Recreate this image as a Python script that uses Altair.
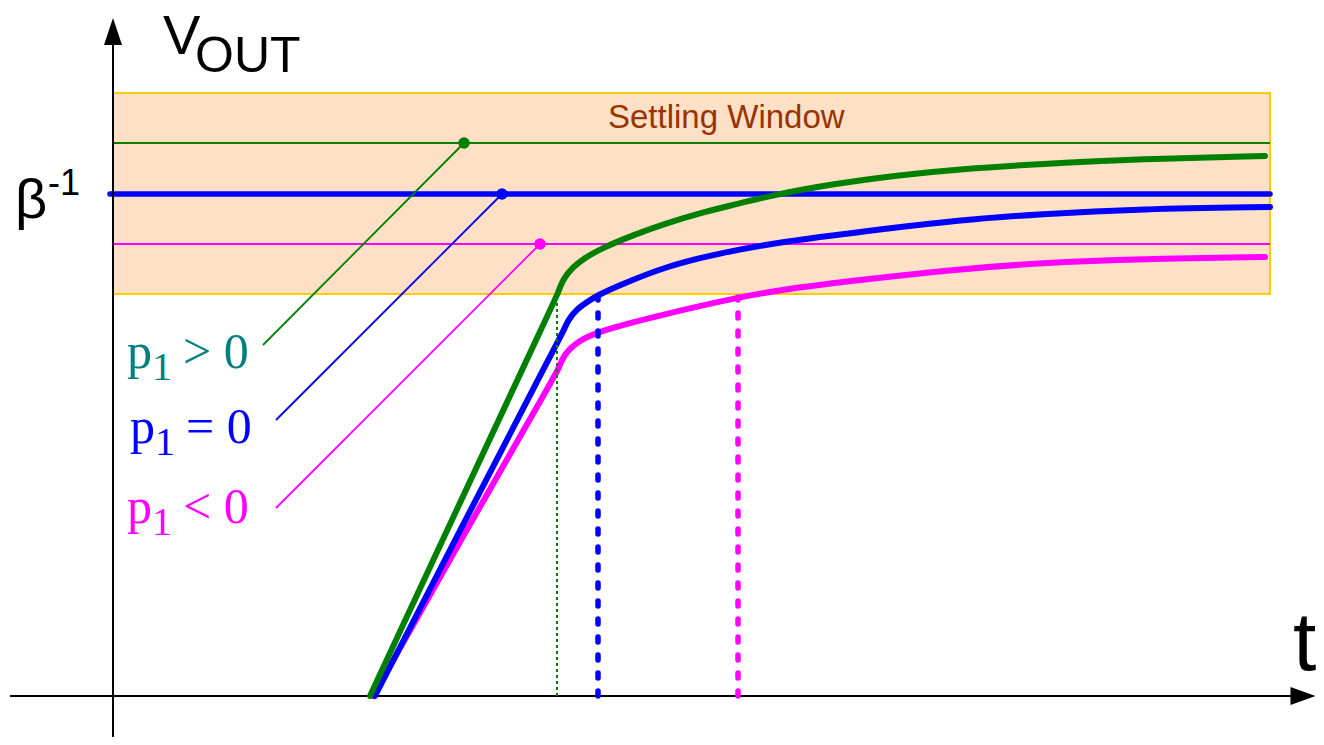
import altair as alt
import pandas as pd

# Coordinate frame of the sketch: t to the right, v upward (1 unit ~ 1 px)
T_MIN, T_MAX = -105, 1203
V_MIN, V_MAX = -41, 688

# ---- step responses ----
green_t = [257, 351, 440, 445, 450, 460, 470, 487, 520, 554, 587, 620, 660, 720, 787, 847, 927, 1027, 1152, 1152]
green_v = [0, 202, 392, 403, 417, 429, 437, 447, 461, 473, 483, 491, 501, 512, 521, 527, 532, 537, 540, 540]

blue_t = [262, 356, 445, 450, 455, 464, 474, 485, 507, 554, 607, 667, 754, 847, 927, 1027, 1157, 1157]
blue_v = [0, 183, 355, 364, 376, 387, 394, 401, 411, 430, 443, 454, 465, 476, 482, 487, 489, 489]

mag_t = [260, 353, 441, 446, 450, 464, 490, 540, 625, 687, 754, 847, 927, 1027, 1152, 1152]
mag_v = [0, 165, 319, 328, 340, 355, 366, 379, 399, 409, 417, 427, 433, 437, 439, 439]

# ---- final-value levels and settling window ----
level_v = [553, 502, 452]
level_colors = ["#008000", "#0000FF", "#FF00FF"]
label_colors = ["#008080", "#0000FF", "#FF00FF"]
window_t = [0, 1157]
window_v = [402, 603]

# leader lines: dot on level -> label
leader_t0 = [351, 389, 427]
leader_t1 = [150, 163, 163]
leader_v1 = [351, 276, 188]

# settling times (vertical markers)
settle_t = [444, 485, 625]
settle_v = [403, 400, 399]

# label rows
label_t = [14, 17, 14]
label_base = [328, 253, 173]
label_ops = ["> 0", "= 0", "< 0"]


def X(f="t"):
    return alt.X(f"{f}:Q", scale=alt.Scale(domain=[T_MIN, T_MAX], nice=False, zero=False), axis=None)


def Y(f="v"):
    return alt.Y(f"{f}:Q", scale=alt.Scale(domain=[V_MIN, V_MAX], nice=False, zero=False), axis=None)


layers = []

# settling window
win = pd.DataFrame({"t": [window_t[0]], "t2": [window_t[1]], "v": [window_v[0]], "v2": [window_v[1]]})
layers.append(alt.Chart(win).mark_rect(fill="#FDE0C6", stroke="#FFCC00", strokeWidth=2).encode(
    x=X(), x2="t2:Q", y=Y(), y2="v2:Q"))

layers.append(alt.Chart(pd.DataFrame({"t": [495], "v": [568], "s": ["Settling Window"]})).mark_text(
    align="left", baseline="alphabetic", font="Liberation Sans", fontSize=33, color="#993300").encode(
    x=X(), y=Y(), text="s:N"))

# level lines
for i in range(3):
    d = pd.DataFrame({"t": [-3 if i == 1 else 0], "t2": [window_t[1]], "v": [level_v[i]], "v2": [level_v[i]]})
    layers.append(alt.Chart(d).mark_rule(color=level_colors[i], strokeWidth=5.5 if i == 1 else 2,
                                         strokeCap="round" if i == 1 else "butt").encode(
        x=X(), x2="t2:Q", y=Y(), y2="v2:Q"))

# leader lines and dots
for i in range(3):
    d = pd.DataFrame({"t": [leader_t0[i]], "t2": [leader_t1[i]], "v": [level_v[i]], "v2": [leader_v1[i]]})
    layers.append(alt.Chart(d).mark_rule(color=level_colors[i], strokeWidth=1.8).encode(
        x=X(), x2="t2:Q", y=Y(), y2="v2:Q"))
    layers.append(alt.Chart(pd.DataFrame({"t": [leader_t0[i]], "v": [level_v[i]]})).mark_circle(
        size=133, opacity=1, color=level_colors[i]).encode(x=X(), y=Y()))

# axes
axes = pd.DataFrame({"t": [0, -103], "t2": [0, 1182], "v": [-41, 0], "v2": [652, 0]})
layers.append(alt.Chart(axes).mark_rule(color="black", strokeWidth=2).encode(
    x=X(), x2="t2:Q", y=Y(), y2="v2:Q"))
layers.append(alt.Chart(pd.DataFrame({"t": [0], "v": [664.5]})).mark_point(
    shape="M0,-1L0.667,1L-0.667,1Z", size=729, filled=True, opacity=1, color="black", strokeWidth=0).encode(
    x=X(), y=Y()))
layers.append(alt.Chart(pd.DataFrame({"t": [1190], "v": [0]})).mark_point(
    shape="M1,0L-1,0.72L-1,-0.72Z", size=625, filled=True, opacity=1, color="black", strokeWidth=0).encode(
    x=X(), y=Y()))

# curves
for tt, vv, c in [(mag_t, mag_v, "#FF00FF"), (blue_t, blue_v, "#0000FF"), (green_t, green_v, "#008000")]:
    d = pd.DataFrame({"t": tt, "v": vv, "i": list(range(len(tt)))})
    layers.append(alt.Chart(d).mark_line(interpolate="basis", strokeWidth=6, strokeCap="round",
                                         strokeJoin="round", color=c).encode(
        x=X(), y=Y(), order="i:Q"))

# settling-time markers
d = pd.DataFrame({"t": [settle_t[0]], "v": [0], "v2": [settle_v[0]]})
layers.append(alt.Chart(d).mark_rule(color="#008000", strokeWidth=2, strokeDash=[3, 3]).encode(
    x=X(), y=Y(), y2="v2:Q"))
for i, c in [(1, "#0000FF"), (2, "#FF00FF")]:
    d = pd.DataFrame({"t": [settle_t[i]], "v": [0], "v2": [settle_v[i]]})
    layers.append(alt.Chart(d).mark_rule(color=c, strokeWidth=5.5, strokeDash=[5, 13], strokeCap="round").encode(
        x=X(), y=Y(), y2="v2:Q"))

# axis texts
sans = pd.DataFrame({
    "t": [50, 82, -98, -65, 1180],
    "v": [642, 624, 478, 501, 26],
    "s": ["V", "OUT", "β", "-1", "t"],
    "fs": [56, 50, 56, 36, 84],
})
layers.append(alt.Chart(sans).mark_text(align="left", baseline="alphabetic", font="Liberation Sans",
                                        color="black").encode(
    x=X(), y=Y(), text="s:N", size=alt.Size("fs:Q", scale=None)))

# p1 labels (serif)
rows = []
for i in range(3):
    rows.append({"t": label_t[i], "v": label_base[i], "s": "p", "fs": 50, "c": label_colors[i]})
    rows.append({"t": label_t[i] + 25, "v": label_base[i] - 12, "s": "1", "fs": 40, "c": label_colors[i]})
    rows.append({"t": label_t[i] + 56, "v": label_base[i], "s": label_ops[i], "fs": 50, "c": label_colors[i]})
lab = pd.DataFrame(rows)
layers.append(alt.Chart(lab).mark_text(align="left", baseline="alphabetic", font="Liberation Serif").encode(
    x=X(), y=Y(), text="s:N", size=alt.Size("fs:Q", scale=None), color=alt.Color("c:N", scale=None)))

chart = alt.layer(*layers).properties(
    width=1308, height=729, padding=0, autosize=alt.AutoSizeParams(type="none"), background="white"
).configure_view(stroke=None)

chart.save("out.html", embed_options={"renderer": "svg", "actions": False})
